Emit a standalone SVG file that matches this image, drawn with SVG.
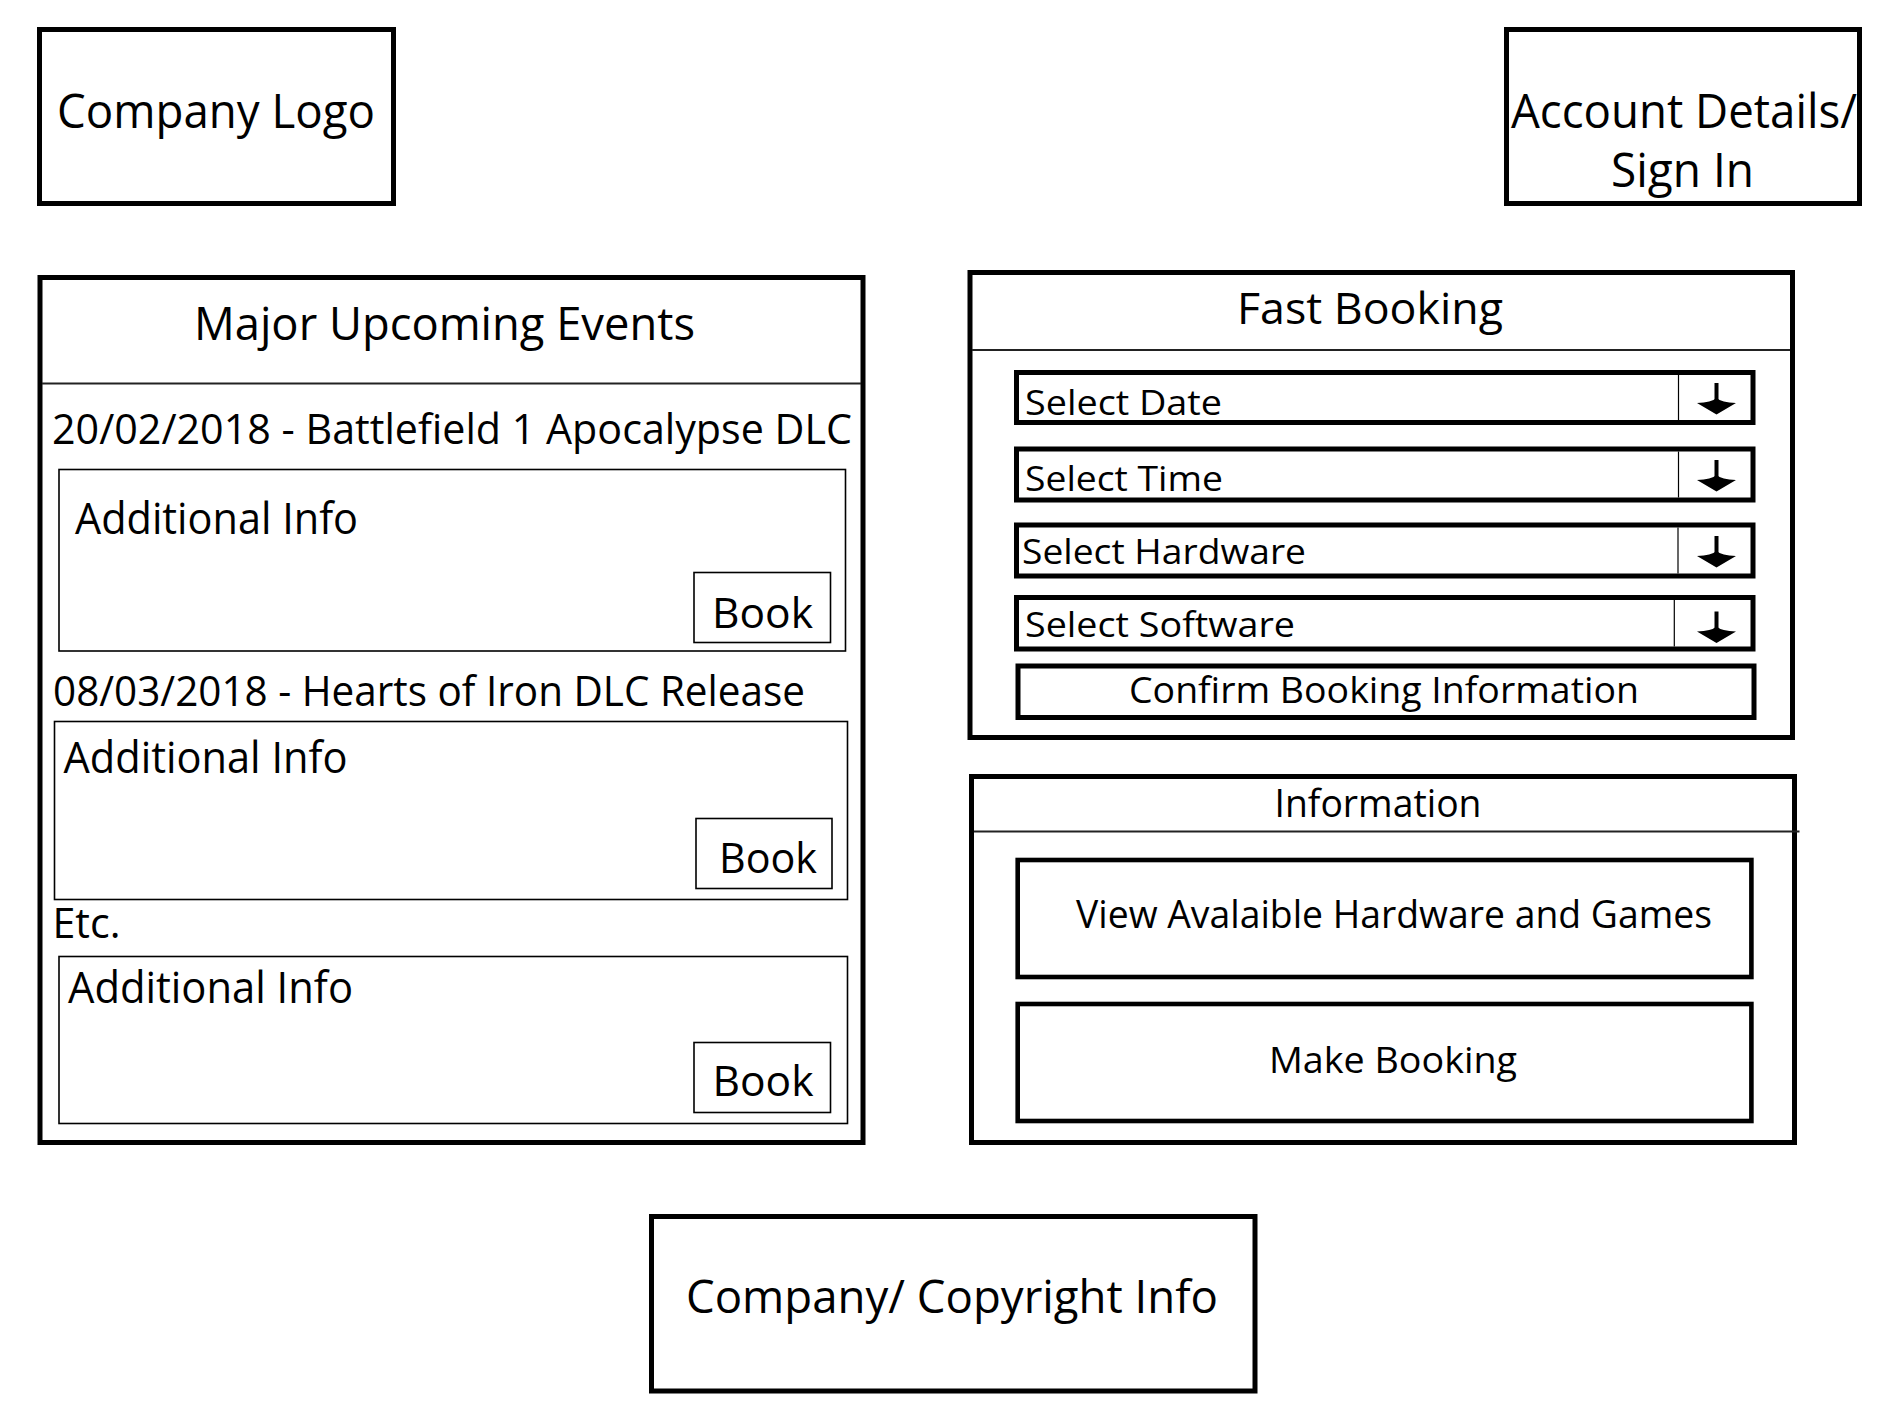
<svg xmlns="http://www.w3.org/2000/svg" xmlns:xlink="http://www.w3.org/1999/xlink" width="1890" height="1417" viewBox="0 0 1890 1417">
<style>
  .box{fill:none;stroke:#000;stroke-width:5}
  .thin{fill:none;stroke:#000;stroke-width:1.6}
  .btn{fill:none;stroke:#000;stroke-width:4.6}
  .div{stroke:#222;stroke-width:2}
  .vsep{stroke:#000;stroke-width:1.2}
  text{font-family:"Open Sans","Noto Sans","DejaVu Sans",sans-serif;fill:#000}
  .t48{font-size:47.6px}
  .t46{font-size:46px}
  .t43{font-size:43px}
  .t42{font-size:41.5px}
  .t38{font-size:37.8px}
  .t36{font-size:36px}
  .t35{font-size:35px}
  .t45{font-size:44.8px}
</style>
<defs>
  <g id="dd-arrow">
    <line x1="0" y1="0" x2="0" y2="19" stroke="#000" stroke-width="4"/>
    <path d="M-19.5,20 Q-5,19.5 0,15 Q5,19.5 19.5,20 L0,31.5 Z" fill="#000"/>
  </g>
</defs>
<rect width="1890" height="1417" fill="#fff"/>

<g id="company-logo">
  <rect class="box" x="39.5" y="29.5" width="354" height="174"/>
  <text class="t48" x="57" y="128" textLength="318" lengthAdjust="spacingAndGlyphs">Company Logo</text>
</g>

<g id="account">
  <rect class="box" x="1506.5" y="29.5" width="353" height="174"/>
  <text class="t48"><tspan x="1511" y="128.3" textLength="346" lengthAdjust="spacingAndGlyphs">Account Details/</tspan><tspan x="1611" y="186.7" textLength="143" lengthAdjust="spacingAndGlyphs">Sign In</tspan></text>
</g>

<g id="major-events">
  <rect class="box" x="40" y="277.5" width="823" height="865"/>
  <line class="div" x1="42" y1="383.5" x2="861" y2="383.5"/>
  <text class="t46" x="194" y="340" textLength="501" lengthAdjust="spacingAndGlyphs">Major Upcoming Events</text>

  <g id="event-1">
    <text class="t42" x="52" y="444" textLength="800" lengthAdjust="spacingAndGlyphs">20/02/2018 - Battlefield 1 Apocalypse DLC</text>
    <rect class="thin" x="59" y="469.5" width="786.5" height="181.5"/>
    <text class="t43" x="75" y="534" textLength="283" lengthAdjust="spacingAndGlyphs">Additional Info</text>
    <g id="book-1">
      <rect class="thin" x="694" y="572.5" width="136.5" height="70"/>
      <text class="t42" x="712" y="628" textLength="101" lengthAdjust="spacingAndGlyphs">Book</text>
    </g>
  </g>

  <g id="event-2">
    <text class="t42" x="53" y="705.7" textLength="752" lengthAdjust="spacingAndGlyphs">08/03/2018 - Hearts of Iron DLC Release</text>
    <rect class="thin" x="54.5" y="721.5" width="793" height="178"/>
    <text class="t43" x="63.5" y="772.7" textLength="284" lengthAdjust="spacingAndGlyphs">Additional Info</text>
    <g id="book-2">
      <rect class="thin" x="696" y="818.5" width="136" height="70"/>
      <text class="t42" x="719" y="873.3" textLength="98" lengthAdjust="spacingAndGlyphs">Book</text>
    </g>
  </g>

  <g id="event-etc">
    <text class="t42" x="52.5" y="938.3" textLength="68" lengthAdjust="spacingAndGlyphs">Etc.</text>
    <rect class="thin" x="59" y="956.5" width="788.5" height="167"/>
    <text class="t43" x="68" y="1003.3" textLength="285" lengthAdjust="spacingAndGlyphs">Additional Info</text>
    <g id="book-3">
      <rect class="thin" x="694" y="1042.5" width="136.5" height="70"/>
      <text class="t42" x="712.5" y="1096" textLength="101" lengthAdjust="spacingAndGlyphs">Book</text>
    </g>
  </g>
</g>

<g id="fast-booking">
  <rect class="box" x="970" y="272.5" width="822.5" height="465"/>
  <line class="div" x1="972" y1="350" x2="1790" y2="350"/>
  <text class="t43" x="1237" y="324.3" textLength="266" lengthAdjust="spacingAndGlyphs">Fast Booking</text>

  <g id="select-date">
    <rect class="box" x="1016.5" y="372.5" width="736.5" height="50"/>
    <line class="vsep" x1="1678.5" y1="375" x2="1678.5" y2="420"/>
    <use xlink:href="#dd-arrow" x="1716.5" y="383"/>
    <text class="t35" x="1025" y="415" textLength="197" lengthAdjust="spacingAndGlyphs">Select Date</text>
  </g>
  <g id="select-time">
    <rect class="box" x="1016.5" y="449" width="736.5" height="51"/>
    <line class="vsep" x1="1678.5" y1="451.5" x2="1678.5" y2="497.5"/>
    <use xlink:href="#dd-arrow" x="1716.5" y="460"/>
    <text class="t35" x="1025" y="491" textLength="198" lengthAdjust="spacingAndGlyphs">Select Time</text>
  </g>
  <g id="select-hardware">
    <rect class="box" x="1016.5" y="525" width="736.5" height="51"/>
    <line class="vsep" x1="1678" y1="527.5" x2="1678" y2="573.5"/>
    <use xlink:href="#dd-arrow" x="1716.5" y="536"/>
    <text class="t35" x="1022" y="564" textLength="284" lengthAdjust="spacingAndGlyphs">Select Hardware</text>
  </g>
  <g id="select-software">
    <rect class="box" x="1016.5" y="597.5" width="736.5" height="51.5"/>
    <line class="vsep" x1="1674.3" y1="600" x2="1674.3" y2="646.5"/>
    <use xlink:href="#dd-arrow" x="1716.5" y="611.5"/>
    <text class="t35" x="1025" y="636.7" textLength="270" lengthAdjust="spacingAndGlyphs">Select Software</text>
  </g>
  <g id="confirm-booking">
    <rect class="box" x="1018" y="666" width="736" height="51.5"/>
    <text class="t36" x="1129" y="702.7" textLength="510" lengthAdjust="spacingAndGlyphs">Confirm Booking Information</text>
  </g>
</g>

<g id="information">
  <rect class="box" x="971.5" y="776.5" width="823" height="366"/>
  <line class="div" x1="974" y1="831.5" x2="1799.5" y2="831.5" stroke-width="2.5"/>
  <text class="t38" x="1274.5" y="817.3" textLength="207" lengthAdjust="spacingAndGlyphs">Information</text>
  <g id="view-hardware">
    <rect class="btn" x="1017.7" y="860" width="733.7" height="117"/>
    <text class="t38" x="1076" y="928.3" textLength="636" lengthAdjust="spacingAndGlyphs">View Avalaible Hardware and Games</text>
  </g>
  <g id="make-booking">
    <rect class="btn" x="1017.7" y="1004" width="733.7" height="117"/>
    <text class="t36" x="1269" y="1073.3" textLength="248" lengthAdjust="spacingAndGlyphs">Make Booking</text>
  </g>
</g>

<g id="footer">
  <rect class="box" x="651.5" y="1216.5" width="603.5" height="174.5"/>
  <text class="t45" x="686" y="1313.3" textLength="532" lengthAdjust="spacingAndGlyphs">Company/ Copyright Info</text>
</g>

<g id="connectors"/>
</svg>
